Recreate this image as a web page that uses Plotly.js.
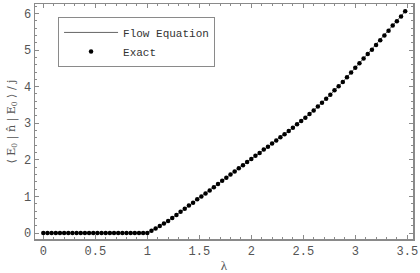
<!DOCTYPE html>
<html>
<head>
<meta charset="utf-8">
<script src="https://cdn.plot.ly/plotly-3.0.1.min.js"></script>
<style>html,body{margin:0;padding:0;background:#fff;}#chart{width:420px;height:273px;}</style>
</head>
<body>
<div id="chart"></div>
<script>
const lambdaVals = [0.00,0.04,0.08,0.12,0.16,0.20,0.24,0.28,0.32,0.36,0.40,0.44,0.48,0.52,0.56,0.60,0.64,0.68,0.72,0.76,0.80,0.84,0.88,0.92,0.96,1.00,
1.04,1.08,1.12,1.16,1.20,1.24,1.28,1.32,1.36,1.40,1.44,1.48,1.52,1.56,1.60,1.64,1.68,1.72,1.76,1.80,1.84,1.88,1.92,1.96,2.00,
2.04,2.08,2.12,2.16,2.20,2.24,2.28,2.32,2.36,2.40,2.44,2.48,2.52,2.56,2.60,2.64,2.68,2.72,2.76,2.80,2.84,2.88,2.92,2.96,3.00,
3.04,3.08,3.12,3.16,3.20,3.24,3.28,3.32,3.36,3.40,3.44,3.48];
const exactVals = [0,0,0,0,0,0,0,0,0,0,0,0,0,0,0,0,0,0,0,0,0,0,0,0,0,0,
0.06,0.12,0.19,0.26,0.33,0.41,0.49,0.58,0.66,0.75,0.83,0.92,1.00,1.08,1.16,1.25,1.34,1.43,1.51,1.60,1.68,1.77,1.85,1.94,2.02,
2.11,2.19,2.28,2.36,2.45,2.53,2.62,2.70,2.79,2.88,2.97,3.06,3.15,3.25,3.35,3.46,3.56,3.67,3.78,3.90,4.01,4.13,4.26,4.39,4.52,
4.64,4.77,4.89,5.01,5.14,5.27,5.40,5.53,5.67,5.79,5.92,6.06];
const flowVals = exactVals.slice();
const xTicks = [0,0.5,1,1.5,2,2.5,3,3.5];
const xTickText = ['0','0.5','1','1.5','2','2.5','3','3.5'];
const yTicks = [0,1,2,3,4,5,6];
const yTickText = ['0','1','2','3','4','5','6'];

const mono = 'Liberation Mono';
const frame = '#8a8a8a';
const axisCommon = {
  showgrid:false, zeroline:false, showline:true, mirror:'allticks',
  linecolor:frame, linewidth:1.5, ticks:'inside', tickcolor:frame, ticklen:4, tickwidth:1,
  tickfont:{family:mono, size:12, color:'#555'},
  minor:{ticks:'inside', ticklen:2, tickcolor:frame, tickwidth:1}
};
const data = [
  {x:lambdaVals, y:flowVals, type:'scatter', mode:'lines', name:'Flow Equation',
   line:{color:'#666', width:1}},
  {x:lambdaVals, y:exactVals, type:'scatter', mode:'markers', name:'Exact',
   marker:{color:'#000', size:4.5}}
];
const layout = {
  width:420, height:273,
  font:{family:mono, size:12, color:'#555'},
  margin:{l:35, r:7, t:4, b:34},
  paper_bgcolor:'#fff', plot_bgcolor:'#fff',
  xaxis:Object.assign({}, axisCommon, {
    range:[-0.08,3.555], tickvals:xTicks, ticktext:xTickText,
    minor:Object.assign({}, axisCommon.minor, {dtick:0.1}),
    title:{text:'λ', font:{family:'Liberation Serif', size:13, color:'#555'}, standoff:4}
  }),
  yaxis:Object.assign({}, axisCommon, {
    range:[-0.164,6.26], tickvals:yTicks, ticktext:yTickText,
    minor:Object.assign({}, axisCommon.minor, {dtick:0.2}),
    title:{text:'⟨ E<sub>0</sub> | n̂ | E<sub>0</sub> ⟩ / j', font:{family:'DejaVu Serif', size:11, color:'#555'}, standoff:6}
  }),
  showlegend:true,
  legend:{x:0.061, y:0.945, xanchor:'left', yanchor:'top',
    bordercolor:frame, borderwidth:1, bgcolor:'#fff',
    font:{family:mono, size:11, color:'#333'}, itemwidth:54, tracegroupgap:0}
};
Plotly.newPlot('chart', data, layout, {staticPlot:true});
</script>
</body>
</html>
